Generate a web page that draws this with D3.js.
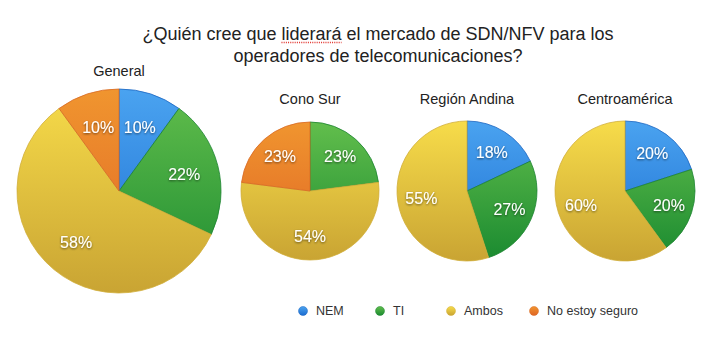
<!DOCTYPE html>
<html><head><meta charset="utf-8">
<script src="https://cdn.jsdelivr.net/npm/d3@7"></script>
<style>body{margin:0;background:#fff}</style>
</head><body>
<svg id="c" width="720" height="340"></svg>
<script>
const categories = ["NEM", "TI", "Ambos", "No estoy seguro"];
const regions = ["General", "Cono Sur", "Región Andina", "Centroamérica"];
const general = [10, 22, 58, 10];
const conoSur = [0, 23, 54, 23];
const regionAndina = [18, 27, 55, 0];
const centroamerica = [20, 20, 60, 0];
const titleLines = ["¿Quién cree que liderará el mercado de SDN/NFV para los", "operadores de telecomunicaciones?"];
const underlinedWord = "liderará";

const seriesList = [general, conoSur, regionAndina, centroamerica];
const colorsTop = ["#4aa3f0", "#62be4c", "#f7dc4a", "#f0952f"];
const colorsBot = ["#1b6cd0", "#1a8a30", "#c9a433", "#df6424"];
const strokes = ["#1a65c0", "#1c8430", "#d0ad38", "#d86a25"];
const layout = [
  {cx: 119, cy: 191, r: 102, ty: 76},
  {cx: 310, cy: 191, r: 69, ty: 104},
  {cx: 467, cy: 191, r: 70, ty: 104},
  {cx: 625, cy: 191, r: 70, ty: 104}
];
const svg = d3.select("#c");
const defs = svg.append("defs");
categories.forEach((c, i) => {
  const g = defs.append("linearGradient").attr("id", "g" + i)
    .attr("x1", 0).attr("y1", 0).attr("x2", 0).attr("y2", 1);
  g.append("stop").attr("offset", "0%").attr("stop-color", colorsTop[i]);
  g.append("stop").attr("offset", "100%").attr("stop-color", colorsBot[i]);
});
const f = defs.append("filter").attr("id", "sh").attr("x", "-20%").attr("y", "-20%").attr("width", "140%").attr("height", "140%");
f.append("feDropShadow").attr("dx", 0).attr("dy", 1).attr("stdDeviation", 0.8).attr("flood-color", "#000").attr("flood-opacity", 0.55);

const font = "'Liberation Sans', Arial, Helvetica, sans-serif";

// Title
const tx = 378;
const l1 = svg.append("text").attr("x", tx).attr("y", 40).attr("text-anchor", "middle")
  .attr("font-family", font).attr("font-size", 18).attr("fill", "#222").text(titleLines[0]);
svg.append("text").attr("x", tx).attr("y", 62).attr("text-anchor", "middle")
  .attr("font-family", font).attr("font-size", 18).attr("fill", "#222").text(titleLines[1]);
// spell-check style dotted underline
const idx = titleLines[0].indexOf(underlinedWord);
const node = l1.node();
const sx = node.getStartPositionOfChar(idx).x;
const wlen = node.getSubStringLength(idx, underlinedWord.length);
svg.append("line").attr("x1", sx).attr("x2", sx + wlen).attr("y1", 42.5).attr("y2", 42.5)
  .attr("stroke", "#e0302a").attr("stroke-width", 1.3).attr("stroke-dasharray", "1,1.2");

const pie = d3.pie().sort(null).value(d => d);
seriesList.forEach((vals, k) => {
  const L = layout[k];
  const g = svg.append("g").attr("transform", `translate(${L.cx},${L.cy})`);
  const arc = d3.arc().innerRadius(0).outerRadius(L.r);
  const labelArc = d3.arc().innerRadius(L.r * 0.66).outerRadius(L.r * 0.66);
  const arcs = pie(vals);
  arcs.forEach((a, i) => {
    if (a.data <= 0) return;
    const gid = `p${k}_${i}`;
    const gr = defs.append("linearGradient").attr("id", gid).attr("gradientUnits", "userSpaceOnUse")
      .attr("x1", 0).attr("y1", -L.r).attr("x2", 0).attr("y2", L.r);
    gr.append("stop").attr("offset", "0%").attr("stop-color", colorsTop[i]);
    gr.append("stop").attr("offset", "100%").attr("stop-color", colorsBot[i]);
    g.append("path").attr("d", arc(a)).attr("fill", `url(#${gid})`)
      .attr("stroke", strokes[i]).attr("stroke-width", 0.8);
  });
  arcs.forEach((a, i) => {
    if (a.data <= 0) return;
    const [x, y] = labelArc.centroid(a);
    g.append("text").attr("x", x).attr("y", y).attr("dy", "0.35em").attr("text-anchor", "middle")
      .attr("font-family", font).attr("font-size", 16).attr("fill", "#fff")
      .attr("filter", "url(#sh)").text(a.data + "%");
  });
  svg.append("text").attr("x", L.cx).attr("y", L.ty).attr("text-anchor", "middle")
    .attr("font-family", font).attr("font-size", 14.5).attr("fill", "#222").text(regions[k]);
});

// Legend
const legX = [303, 380, 451, 534];
categories.forEach((c, i) => {
  svg.append("circle").attr("cx", legX[i]).attr("cy", 311).attr("r", 4.5)
    .attr("fill", `url(#g${i})`).attr("stroke", strokes[i]).attr("stroke-width", 0.5);
  svg.append("text").attr("x", legX[i] + 13).attr("y", 311).attr("dy", "0.35em")
    .attr("font-family", font).attr("font-size", 12.5).attr("fill", "#333").text(c);
});
</script>
</body></html>
